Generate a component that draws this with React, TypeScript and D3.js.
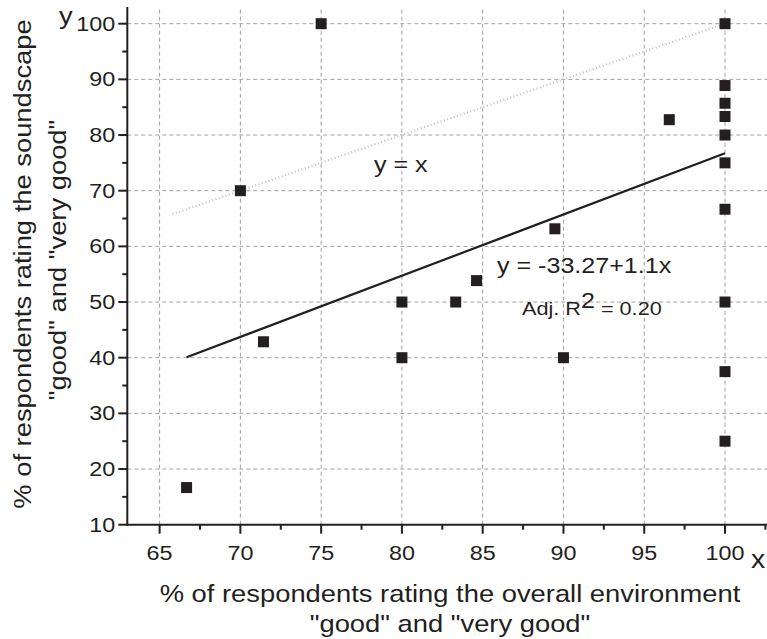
import React from 'react';
import * as d3 from 'd3';

// survey points: % rating overall environment good (x) vs soundscape good (y)
const pointsX = [66.67, 70, 71.43, 75, 80, 80, 83.33, 84.62, 89.47, 90, 96.55, 100, 100, 100, 100, 100, 100, 100, 100, 100, 100];
const pointsY = [16.67, 70, 42.86, 100, 50, 40, 50, 53.85, 63.16, 40, 82.76, 100, 88.89, 85.71, 83.33, 80, 75, 66.67, 50, 37.5, 25];

const xTicks = [65, 70, 75, 80, 85, 90, 95, 100];
const xMinor = [67.5, 72.5, 77.5, 82.5, 87.5, 92.5, 97.5, 102.5];
const yTicks = [10, 20, 30, 40, 50, 60, 70, 80, 90, 100];
const yMinor = [15, 25, 35, 45, 55, 65, 75, 85, 95];

const fitIntercept = -33.27;
const fitSlope = 1.1;
const fitRange = [66.67, 100];
const identityRange = [65.8, 100];

const FONT = "'Liberation Sans', Arial, Helvetica, sans-serif";
const INK = '#231f20';
const SX = 1.14;

const T = ({ x, y, size, anchor = 'start', rotate = 0, children }: any) => (
  <text
    transform={`translate(${x},${y}) rotate(${rotate}) scale(${SX},1)`}
    fontSize={size}
    fontFamily={FONT}
    textAnchor={anchor}
    fill={INK}
  >
    {children}
  </text>
);

export default function App() {
  const x = d3.scaleLinear().domain([63, 102.6]).range([127.3, 767]);
  const y = d3.scaleLinear().domain([10, 103]).range([524.7, 7]);
  const x0 = x.range()[0];
  const y0 = y.range()[0];

  const line = d3.line<number>().x(d => x(d)).y(d => y(fitIntercept + fitSlope * d));
  const ident = d3.line<number>().x(d => x(d)).y(d => y(d));

  return (
    <svg width={767} height={639} style={{ position: 'absolute', left: 0, top: 0, background: '#fff' }}>
      {/* grid */}
      <g stroke="#a0a0a0" strokeWidth={1} strokeDasharray="4,3">
        {xTicks.map(t => (
          <line key={'gx' + t} x1={x(t)} x2={x(t)} y1={y0} y2={y(103)} />
        ))}
        {yTicks.slice(1).map(t => (
          <line key={'gy' + t} x1={x0} x2={767} y1={y(t)} y2={y(t)} />
        ))}
      </g>

      {/* y = x reference */}
      <path d={ident(identityRange) || ''} stroke="#c2c2c2" strokeWidth={2.4} strokeDasharray="1,2.5" fill="none" />

      {/* fit */}
      <path d={line(fitRange) || ''} stroke={INK} strokeWidth={2.2} fill="none" />

      {/* points */}
      <g fill={INK}>
        {pointsX.map((px, i) => (
          <rect key={i} x={x(px) - 5.5} y={y(pointsY[i]) - 5.5} width={11} height={11} />
        ))}
      </g>

      {/* axes */}
      <g stroke={INK} strokeWidth={2}>
        <line x1={x0} x2={x0} y1={y0 + 1} y2={y(103)} />
        <line x1={x0 - 1} x2={767} y1={y0} y2={y0} />
        {xTicks.map(t => (
          <line key={'tx' + t} x1={x(t)} x2={x(t)} y1={y0} y2={y0 + 9} />
        ))}
        {xMinor.map(t => (
          <line key={'mx' + t} x1={x(t)} x2={x(t)} y1={y0} y2={y0 + 5} />
        ))}
        {yTicks.map(t => (
          <line key={'ty' + t} x1={x0} x2={x0 - 9} y1={y(t)} y2={y(t)} />
        ))}
        {yMinor.map(t => (
          <line key={'my' + t} x1={x0} x2={x0 - 5} y1={y(t)} y2={y(t)} />
        ))}
      </g>

      {xTicks.map(t => (
        <T key={'lx' + t} x={x(t)} y={y0 + 35} size={20.5} anchor="middle">{t}</T>
      ))}
      {yTicks.map(t => (
        <T key={'ly' + t} x={x0 - 12} y={y(t) + 7} size={20.5} anchor="end">{t}</T>
      ))}

      <T x={59} y={24} size={24}>y</T>
      <T x={751} y={568} size={25}>x</T>

      <T x={450} y={602} size={24} anchor="middle">% of respondents rating the overall environment</T>
      <T x={450} y={632} size={24} anchor="middle">"good" and "very good"</T>

      <T x={31} y={264} size={24} anchor="middle" rotate={-90}>% of respondents rating the soundscape</T>
      <T x={66} y={260} size={24} anchor="middle" rotate={-90}>"good" and "very good"</T>

      <T x={374} y={172} size={22}>y = x</T>
      <T x={497} y={273} size={22}>y = -33.27+1.1x</T>
      <text transform={`translate(522,315) scale(${SX},1)`} fontSize={19} fontFamily={FONT} fill={INK}>
        Adj. R<tspan fontSize={22} dy={-7}>2</tspan><tspan dy={7}> = 0.20</tspan>
      </text>
    </svg>
  );
}
